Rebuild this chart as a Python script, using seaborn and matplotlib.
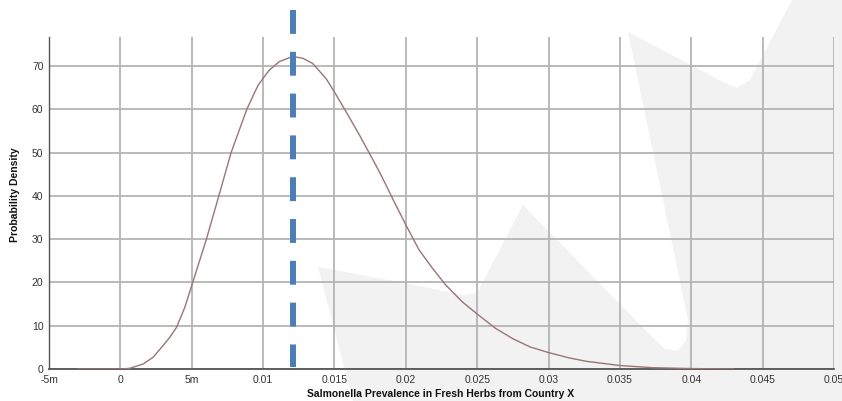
import seaborn as sns
import matplotlib.pyplot as plt
from matplotlib.patches import Polygon
import pandas as pd

# values
prevalence = [-0.003, 0.0, 0.00065, 0.00159, 0.00229, 0.00299, 0.00346, 0.00393, 0.00451, 0.00505,
              0.00603, 0.0069, 0.00776, 0.00886, 0.00938, 0.00966, 0.0101, 0.01042, 0.01113, 0.01207,
              0.01277, 0.01347, 0.01441, 0.015, 0.01582, 0.01676, 0.0177, 0.01814, 0.01876, 0.01907,
              0.020, 0.02093, 0.02186, 0.0228, 0.02396, 0.025, 0.02628, 0.0275, 0.0287, 0.030,
              0.0314, 0.0326, 0.035, 0.0373, 0.040, 0.043]
density = [0.0, 0.0, 0.15, 1.15, 2.7, 5.4, 7.3, 9.6, 14.2, 19.8,
           30.0, 40.0, 50.0, 60.0, 63.7, 65.6, 67.6, 69.0, 71.0, 72.2,
           71.8, 70.6, 67.1, 64.0, 59.4, 54.0, 48.3, 45.6, 41.5, 39.4,
           33.3, 27.5, 23.3, 19.4, 15.5, 12.7, 9.4, 7.0, 5.1, 3.8,
           2.6, 1.8, 0.8, 0.3, 0.1, 0.0]
marker_x = 0.0121

x_ticks = [-0.005, 0, 0.005, 0.01, 0.015, 0.02, 0.025, 0.03, 0.035, 0.04, 0.045, 0.05]
x_labels = ["-5m", "0", "5m", "0.01", "0.015", "0.02", "0.025", "0.03", "0.035", "0.04", "0.045", "0.05"]
y_ticks = [0, 10, 20, 30, 40, 50, 60, 70]

df = pd.DataFrame({"x": prevalence, "y": density})

sns.set_style("white")
plt.rcParams['font.family'] = ['Liberation Sans', 'DejaVu Sans']

W, H = 842, 401
fig = plt.figure(figsize=(W / 100, H / 100), dpi=100)

# light grey watermark shape behind the chart
wm = [(318, 267), (400, 282), (463, 295), (477, 293), (523, 205), (655, 340), (665, 349),
      (677, 351), (686, 341), (688, 320), (628, 32), (723, 82), (737, 88), (750, 80),
      (792, 0), (842, 0), (842, 401), (353, 401)]
fig.add_artist(Polygon([(px / W, 1 - py / H) for px, py in wm], closed=True,
                       transform=fig.transFigure, facecolor="#f2f2f2",
                       edgecolor="none", zorder=-5))

ax = fig.add_axes([49 / W, 1 - 369 / H, 785 / W, 332 / H])
ax.set_facecolor("none")

sns.lineplot(data=df, x="x", y="y", ax=ax, color="#9c7474", linewidth=1.0,
             sort=False, estimator=None, zorder=3)

ax.plot([marker_x, marker_x], [82.9, 0.4], color="#4a7ebb", linewidth=4.3,
        linestyle=(0, (4, 3)), solid_capstyle="butt", clip_on=False, zorder=4)

ax.set_xlim(-0.005, 0.05)
ax.set_ylim(0, 76.7)
ax.set_xticks(x_ticks)
ax.set_xticklabels(x_labels)
ax.set_yticks(y_ticks)
ax.set_xlabel("")
ax.set_ylabel("")
ax.grid(True, color="#b4b4b4", linewidth=1.3)
ax.set_axisbelow(True)

for s in ["top", "right"]:
    ax.spines[s].set_visible(False)
ax.spines["left"].set_color("#555555")
ax.spines["bottom"].set_color("#555555")
ax.spines["left"].set_linewidth(1.0)
ax.spines["bottom"].set_linewidth(1.3)
ax.tick_params(axis="both", length=3, width=0.8, color="#888888", labelsize=7.5,
               labelcolor="#333333", pad=1)

lab_font = dict(family=["Liberation Sans Narrow", "Liberation Sans"], weight="bold",
                size=7.5, color="#111111")
fig.text(441 / W, 1 - 394 / H, "Salmonella Prevalence in Fresh Herbs from Country X",
         ha="center", va="center", **lab_font)
fig.text(15 / W, 1 - 195 / H, "Probability Density", rotation=90, ha="center",
         va="center", **lab_font)

fig.savefig("out.png", dpi=100)
